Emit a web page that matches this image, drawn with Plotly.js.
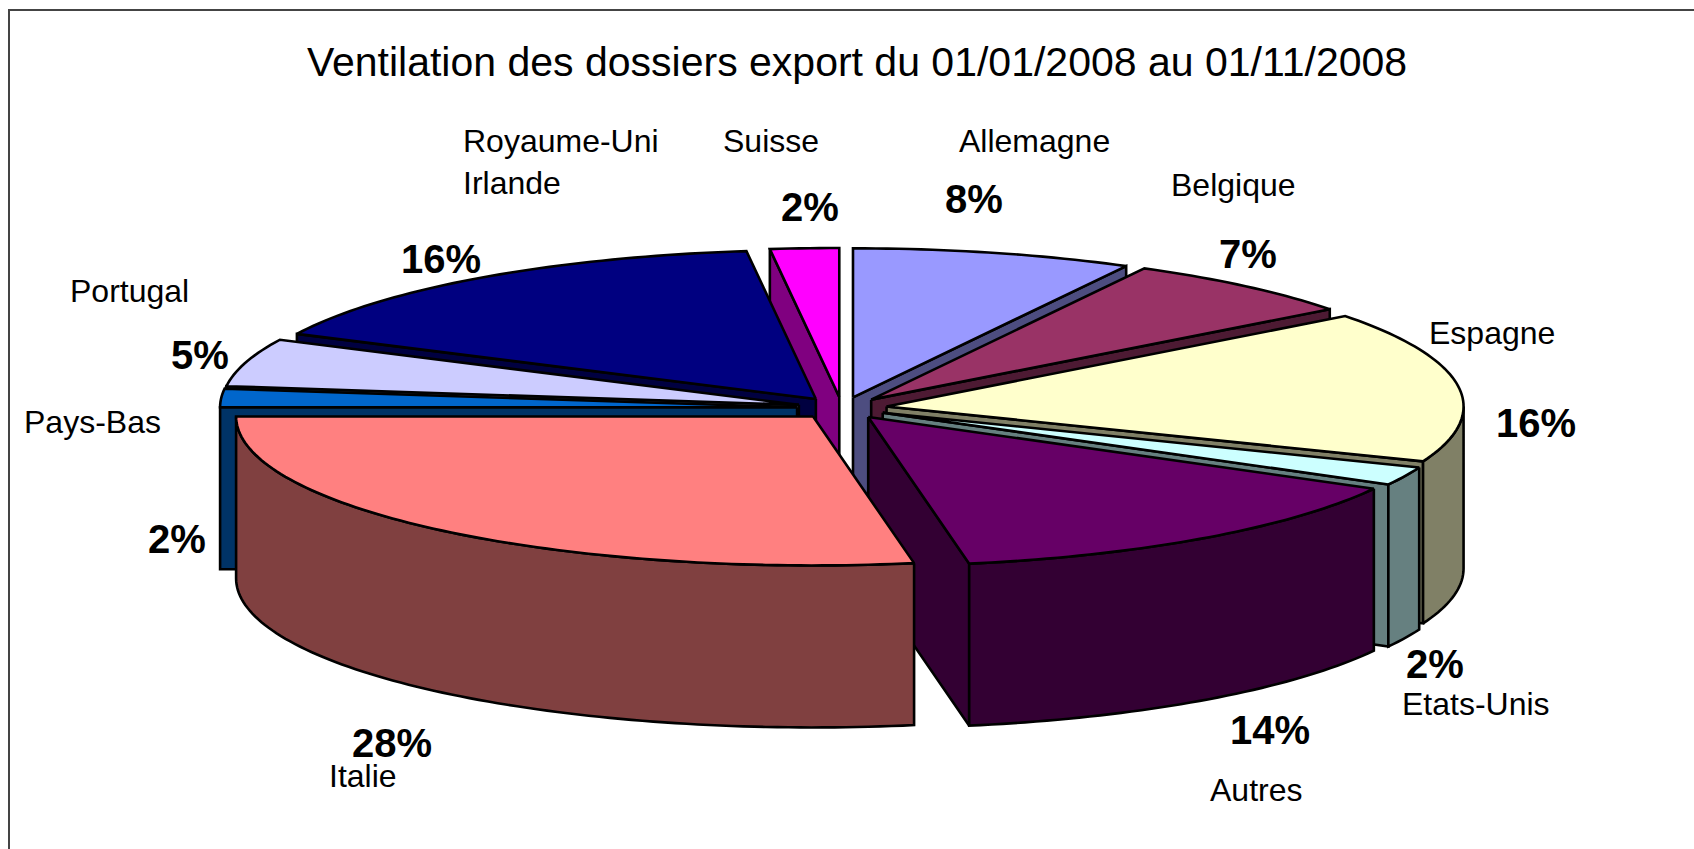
<!DOCTYPE html>
<html><head><meta charset="utf-8">
<script src="https://cdn.plot.ly/plotly-3.0.1.min.js"></script>
<style>html,body{margin:0;padding:0;background:#fff}#c{width:1694px;height:849px}</style>
</head><body><div id="c"></div>
<script>
// Data: share of export files per country, clockwise from 12 o'clock
var categories = ['Allemagne','Belgique','Espagne','Etats-Unis','Autres','Italie','Pays-Bas','Portugal','Royaume-Uni<br>Irlande','Suisse'];
var values = [7.85,6.77,16.38,2,14.2,27.8,2,5.2,15.88,1.92];
var topColors = ['#9999FF','#993366','#FFFFCC','#CCFFFF','#660066','#FF8080','#0066CC','#CCCCFF','#000080','#FF00FF'];
var sideColors = ['#4D4D80','#4D1A33','#808066','#668080','#330033','#804040','#003366','#666680','#000040','#800080'];
var titleText = 'Ventilation des dossiers export du 01/01/2008 au 01/11/2008';

// Label anchor points (pixel-mapped axes)
var catLabelX = [1034,1233,1492,1476,1256,363,92,129,461,771];
var catLabelY = [141,185,333,704,790,776,422,291,162,141];
var pctLabelX = [974,1248,1536,1435,1270,392,177,200,441,810];
var pctLabelY = [199,254,423,664,730,743,539,355,259,207];

// 3D pie projection
var cx = 842, cy = 408, radX = 577, radY = 149, depth = 162, explodeX = 45, explodeY = 11;
var order = [9,0,1,8,7,6,2,3,4,5]; // back to front
var total = values.reduce(function(a,b){return a+b;},0);
var rad = function(p){return p/total*2*Math.PI;};

var starts = [], run = 0;
values.forEach(function(v){starts.push(run); run += v;});

function rim(tip,a){return [tip[0]+radX*Math.sin(a), tip[1]-radY*Math.cos(a)];}
function poly(pts,color){
  var xs = pts.map(function(p){return p[0];}), ys = pts.map(function(p){return p[1];});
  xs.push(xs[0]); ys.push(ys[0]);
  return {type:'scatter',mode:'lines',x:xs,y:ys,fill:'toself',fillcolor:color,
          line:{color:'#000',width:2.6,simplify:false},hoverinfo:'skip',showlegend:false};
}
function arc(tip,a1,a2){
  var n = Math.max(2,Math.ceil((a2-a1)/0.02)), out=[];
  for(var i=0;i<=n;i++) out.push(rim(tip,a1+(a2-a1)*i/n));
  return out;
}
function down(p){return [p[0],p[1]+depth];}

var traces = [];
order.forEach(function(i){
  var a1 = rad(starts[i]), a2 = rad(starts[i]+values[i]), m = (a1+a2)/2;
  var tip = [cx+explodeX*Math.sin(m), cy-explodeY*Math.cos(m)];
  // radial walls
  if(Math.sin(a1)<-1e-9){var r=rim(tip,a1); traces.push(poly([tip,r,down(r),down(tip)],sideColors[i]));}
  if(Math.sin(a2)>1e-9){var r2=rim(tip,a2); traces.push(poly([tip,r2,down(r2),down(tip)],sideColors[i]));}
  // outer rim, front half only
  var f1 = Math.max(a1,Math.PI/2), f2 = Math.min(a2,3*Math.PI/2);
  if(f2>f1){var ar=arc(tip,f1,f2); traces.push(poly(ar.concat(ar.slice().reverse().map(down)),sideColors[i]));}
  // top face
  traces.push(poly([tip].concat(arc(tip,a1,a2)),topColors[i]));
});

var fontFam = '"Liberation Sans", Arial, sans-serif';
var annotations = [];
categories.forEach(function(c,i){
  annotations.push({xref:'x',yref:'y',x:catLabelX[i],y:catLabelY[i],text:c,showarrow:false,
    align:'left',xanchor:i===8?'left':'center',yanchor:'middle',font:{family:fontFam,size:32,color:'#000'}});
  annotations.push({xref:'x',yref:'y',x:pctLabelX[i],y:pctLabelY[i],text:'<b>'+Math.round(values[i])+'%</b>',showarrow:false,
    xanchor:'center',yanchor:'middle',font:{family:fontFam,size:40,color:'#000'}});
});

Plotly.newPlot('c',traces,{
  width:1694,height:849,margin:{l:0,r:0,t:0,b:0,pad:0},
  paper_bgcolor:'#fff',plot_bgcolor:'#fff',showlegend:false,
  title:{text:titleText,x:857/1694,xanchor:'center',y:1-62/849,yanchor:'middle',font:{family:fontFam,size:41,color:'#000'}},
  xaxis:{range:[0,1694],visible:false,fixedrange:true},
  yaxis:{range:[849,0],visible:false,fixedrange:true},
  annotations:annotations,
  shapes:[{type:'rect',xref:'x',yref:'y',x0:9,y0:10,x1:1720,y1:880,line:{color:'#444',width:2},layer:'below'}]
},{displayModeBar:false,staticPlot:true});
</script></body></html>
